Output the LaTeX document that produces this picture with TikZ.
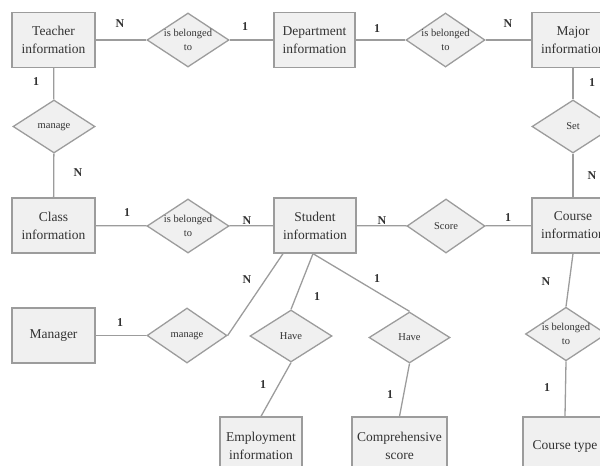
\documentclass[tikz,border=0pt]{standalone}
\usepackage{fontspec}
\setmainfont{Liberation Serif}
\usetikzlibrary{shapes.geometric}
\definecolor{bfill}{HTML}{F0F0F0}
\definecolor{bdraw}{HTML}{9C9C9C}
\definecolor{txt}{HTML}{333333}
\begin{document}
\begin{tikzpicture}[x=1pt,y=-1pt,
  entity/.style={draw=bdraw, fill=bfill, line width=1.3pt, minimum width=83pt, minimum height=55pt,
    inner sep=0pt, align=center, font=\fontsize{13.5}{18}\selectfont, text=txt},
  rel/.style={diamond, draw=bdraw, fill=bfill, line width=1.3pt, minimum width=82pt, minimum height=54pt,
    inner sep=-4pt, align=center, font=\fontsize{10.5}{14}\selectfont, text=txt},
  card/.style={font=\bfseries\fontsize{12}{12}\selectfont, text=txt, inner sep=0pt},
  link/.style={draw=bdraw, line width=1.3pt}]
\useasboundingbox (0,0) rectangle (600,466);
\clip (0,0) rectangle (600,466);
% entities
\node[entity] (teacher) at (53.5,40) {Teacher\\information};
\node[entity, minimum width=81pt] (dept) at (314.5,40) {Department\\information};
\node[entity, minimum width=82pt] (major) at (573,40) {Major\\information};
\node[entity] (class) at (53.5,225.5) {Class\\information};
\node[entity, minimum width=82pt] (student) at (315,225.5) {Student\\information};
\node[entity, minimum width=82pt] (course) at (573,225.5) {Course\\information};
\node[entity] (manager) at (53.5,335.5) {Manager};
\node[entity, minimum width=82pt, minimum height=58pt] (employ) at (261,446) {Employment\\information};
\node[entity, minimum width=95pt, minimum height=58pt] (comp) at (399.5,446) {Comprehensive\\score};
\node[entity, minimum width=84pt, minimum height=58pt] (ctype) at (565,446) {Course type};
% relationships
\node[rel] (r1) at (188,40) {is belonged\\to};
\node[rel, minimum width=79pt] (r2) at (445.5,40) {is belonged\\to};
\node[rel, minimum width=82pt, minimum height=53pt] (r3) at (54,126.5) {manage};
\node[rel, minimum width=82pt, minimum height=53pt] (r4) at (573,126.5) {Set};
\node[rel] (r5) at (188,226) {is belonged\\to};
\node[rel, minimum width=78pt] (r6) at (446,226) {Score};
\node[rel, minimum width=80pt, minimum height=55pt] (r7) at (187,335.5) {manage};
\node[rel, minimum width=82pt, minimum height=52pt] (r8) at (291,336) {Have};
\node[rel, minimum width=81pt, minimum height=51pt] (r9) at (409.5,337.5) {Have};
\node[rel, minimum width=81pt, minimum height=52pt] (r10) at (566,334) {is belonged\\to};
% connectors
\draw[link] (teacher) -- (r1) -- (dept);
\draw[link] (dept) -- (r2) -- (major);
\draw[link] (teacher) -- (r3) -- (class);
\draw[link] (major) -- (r4) -- (course);
\draw[link] (class) -- (r5) -- (student);
\draw[link] (student) -- (r6) -- (course);
\draw[link] (manager) -- (r7.west);
\draw[link] (r7.east) -- ([xshift=-32pt]student.south);
\draw[link] ([xshift=-2pt]student.south) -- (r8.north);
\draw[link] ([xshift=-2pt]student.south) -- (r9.north);
\draw[link] (r8.south) -- (employ.north);
\draw[link] (r9.south) -- (comp.north);
\draw[link] (course.south) -- (r10.north);
\draw[link] (r10.south) -- (ctype.north);
% cardinalities
\node[card] (c1) at (120,24) {N};
\node[card] (c2) at (245,27) {1};
\node[card] (c3) at (377,29) {1};
\node[card] (c4) at (508,24) {N};
\node[card] (c5) at (36,82) {1};
\node[card] (c6) at (78,173) {N};
\node[card] (c7) at (592,83) {1};
\node[card] (c8) at (592,176) {N};
\node[card] (c9) at (127,213) {1};
\node[card] (c10) at (247,221) {N};
\node[card] (c11) at (382,221) {N};
\node[card] (c12) at (508,218) {1};
\node[card] (c13) at (247,280) {N};
\node[card] (c14) at (120,323) {1};
\node[card] (c15) at (317,297) {1};
\node[card] (c16) at (377,279) {1};
\node[card] (c17) at (263,385) {1};
\node[card] (c18) at (390,395) {1};
\node[card] (c19) at (546,282) {N};
\node[card] (c20) at (547,388) {1};
\end{tikzpicture}
\end{document}
